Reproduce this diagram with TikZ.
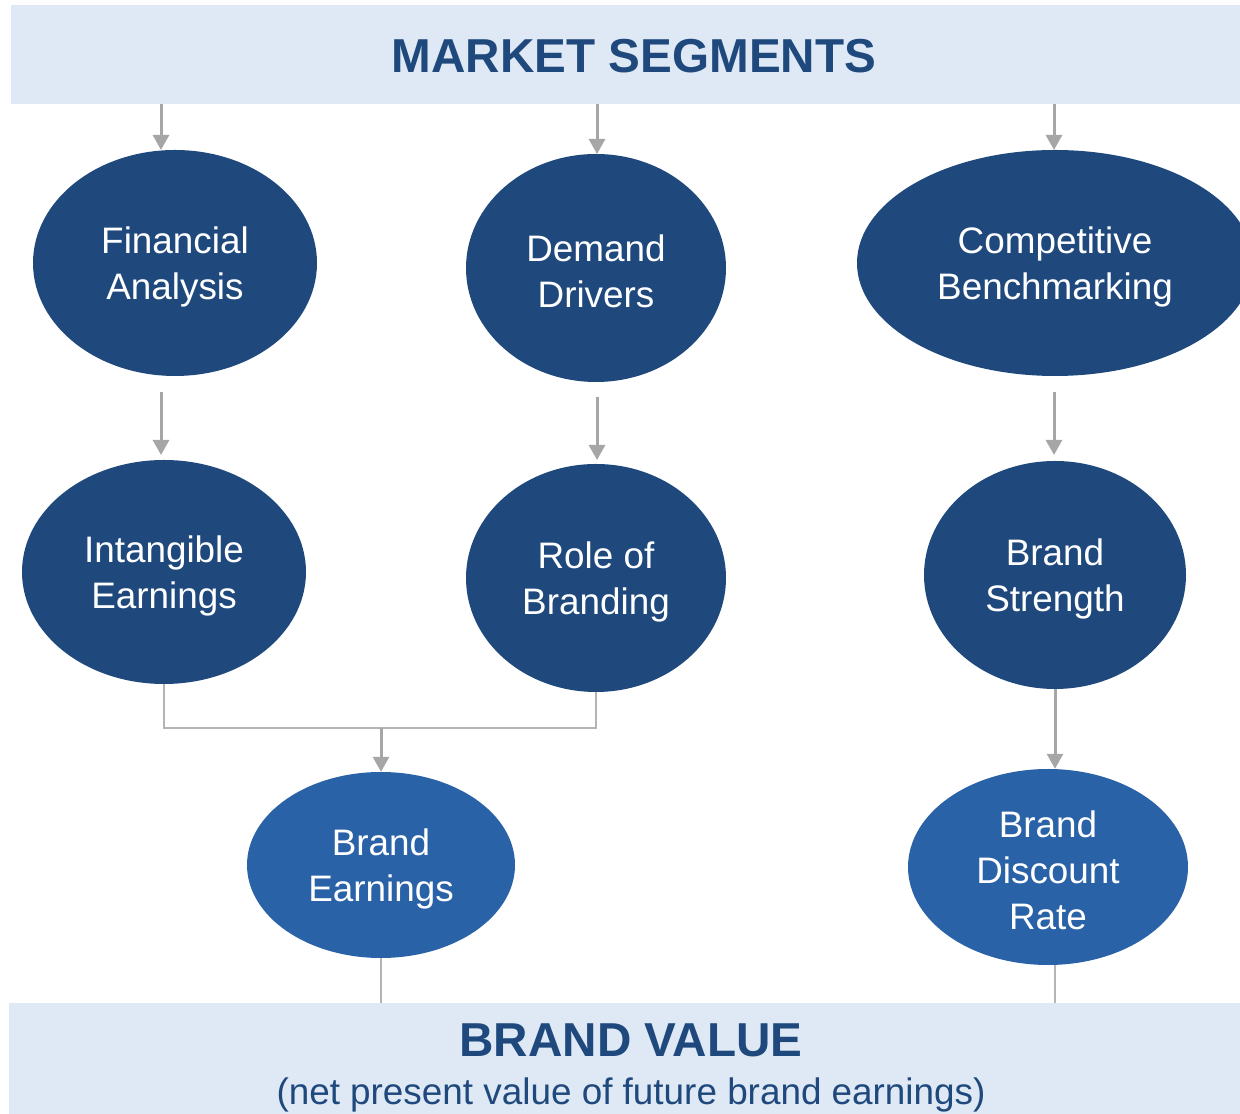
\documentclass[tikz,border=0pt]{standalone}
\usepackage{fontspec}
\setmainfont{Liberation Sans}
\usepackage{tikz}
\usetikzlibrary{arrows.meta,shapes}
\definecolor{bandblue}{HTML}{DEE9F5}
\definecolor{darkblue}{HTML}{1F497D}
\definecolor{midblue}{HTML}{2A62A7}
\definecolor{arrowgray}{HTML}{A6A6A6}
\definecolor{linkgray}{HTML}{B4B4B4}
\newcommand{\ovalpad}{\rule{0pt}{34pt}}

\begin{document}
\begin{tikzpicture}[>={Triangle[width=16bp,length=15bp]}]
      \tikzstyle{every node}=[font=\fontsize{37}{46}\selectfont]
      \tikzstyle{oval}=[ellipse,fill=darkblue,text=white,inner sep=0pt,align=center]
      \tikzstyle{band}=[fill=bandblue,draw=none,inner sep=0pt]
      \tikzstyle{arr}=[->,draw=arrowgray,line width=3bp]
      \tikzstyle{link}=[draw=linkgray,line width=1.5bp]
      \useasboundingbox (0bp,0bp) rectangle (1240bp,1114bp);
      %%
  \node (ms) at (625.5bp,1059.5bp) [band,minimum width=1229bp,minimum height=99bp] {};
  \node (mstext) at (634bp,1058bp) [text=darkblue,font=\fontsize{47.8}{50}\selectfont\bfseries] {MARKET SEGMENTS};
  \node (bv) at (624.5bp,55.5bp) [band,minimum width=1231bp,minimum height=111bp] {};
  \node (bvtext) at (631bp,74bp) [text=darkblue,font=\fontsize{47.8}{50}\selectfont\bfseries] {BRAND VALUE};
  \node (bvsub) at (631bp,19bp) [text=darkblue,font=\fontsize{37}{40}\selectfont] {(net present value of future brand earnings)};
  \node (fa) at (175bp,851bp) [oval,minimum width=284bp,minimum height=226bp] {\ovalpad Financial\\Analysis};
  \node (dd) at (596bp,846bp) [oval,minimum width=260bp,minimum height=228bp] {\ovalpad Demand\\Drivers};
  \node (cb) at (1055bp,851bp) [oval,minimum width=396bp,minimum height=226bp] {\ovalpad Competitive\\Benchmarking};
  \node (ie) at (164bp,542bp) [oval,minimum width=284bp,minimum height=224bp] {\ovalpad Intangible\\Earnings};
  \node (rb) at (596bp,536bp) [oval,minimum width=260bp,minimum height=228bp] {\ovalpad Role of\\Branding};
  \node (bs) at (1055bp,539bp) [oval,minimum width=262bp,minimum height=228bp] {\ovalpad Brand\\Strength};
  \node (be) at (381bp,249bp) [oval,fill=midblue,minimum width=268bp,minimum height=186bp] {\ovalpad Brand\\Earnings};
  \node (bdr) at (1048bp,247bp) [oval,fill=midblue,minimum width=280bp,minimum height=196bp] {\ovalpad Brand\\Discount\\Rate};
  \coordinate (fa_in) at (161bp,964bp);
  \coordinate (dd_in) at (597bp,960bp);
  \coordinate (cb_in) at (1054bp,964bp);
  \coordinate (fa_out) at (161bp,722bp);
  \coordinate (ie_in) at (161bp,659bp);
  \coordinate (dd_out) at (597bp,717bp);
  \coordinate (rb_in) at (597bp,654bp);
  \coordinate (cb_out) at (1054bp,722bp);
  \coordinate (bs_in) at (1054bp,659bp);
  \coordinate (join) at (381bp,386bp);
  \draw [arr] (ms.south -| fa_in) -- (fa_in);
  \draw [arr] (ms.south -| dd_in) -- (dd_in);
  \draw [arr] (ms.south -| cb_in) -- (cb_in);
  \draw [arr] (fa_out) -- (ie_in);
  \draw [arr] (dd_out) -- (rb_in);
  \draw [arr] (cb_out) -- (bs_in);
  \draw [link] (ie.south) |- (join) -| (rb.south);
  \draw [arr] (join) -- (be.north);
  \draw [arr] (bs.south) -- (bs.south |- bdr.north);
  \draw [link] (be.south) -- (be.south |- bv.north);
  \draw [link] (bs.south |- bdr.south) -- (bs.south |- bv.north);
%
\end{tikzpicture}
\end{document}
